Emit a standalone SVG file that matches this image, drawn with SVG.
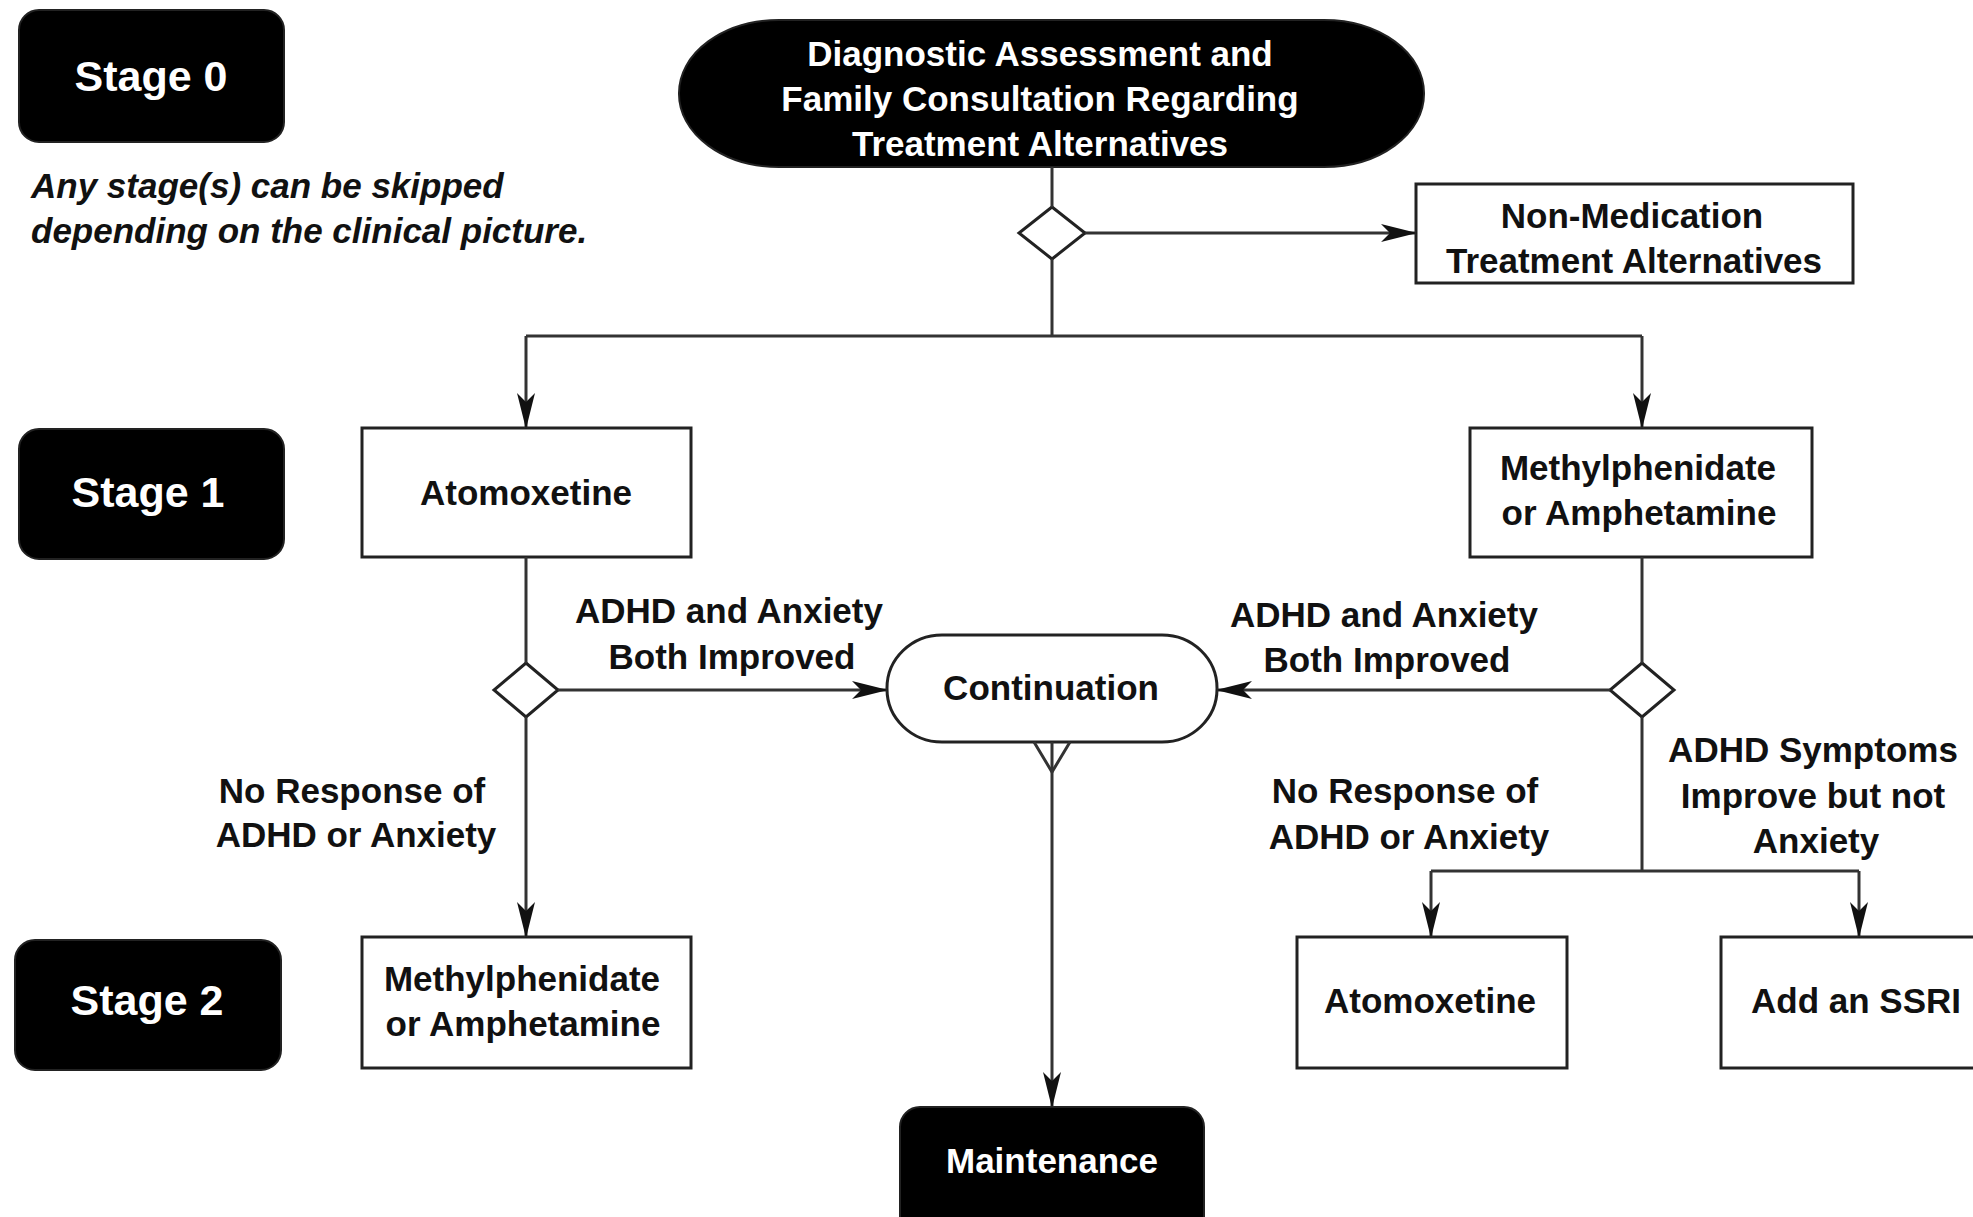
<svg xmlns="http://www.w3.org/2000/svg" width="1973" height="1217" viewBox="0 0 1973 1217">
<style>
.t{font-family:"Liberation Sans",Arial,sans-serif;font-weight:bold;font-size:35px;text-anchor:middle;fill:#111}
.w{fill:#fff}
.st{font-size:43px}
.it{font-style:italic;text-anchor:start}
.box{fill:#fff;stroke:#222;stroke-width:3}
.blk{fill:#000;stroke:#222;stroke-width:2}
.ln{fill:none;stroke:#333;stroke-width:3}
</style>
<defs>
<marker id="ar" viewBox="0 0 36 20" refX="35" refY="10" markerWidth="36" markerHeight="20" markerUnits="userSpaceOnUse" orient="auto">
<path d="M0,1 L36,10 L0,19 L9,10 z" fill="#111"/>
</marker>
</defs>
<rect width="1973" height="1217" fill="#fff"/>

<g id="stage0"><rect class="blk" x="19" y="10" width="265" height="132" rx="20"/><text class="t w st" x="151" y="91">Stage 0</text></g>
<g id="note"><text class="t it" x="31" y="198">Any stage(s) can be skipped</text><text class="t it" x="31" y="243">depending on the clinical picture.</text></g>
<g id="stage1"><rect class="blk" x="19" y="429" width="265" height="130" rx="20"/><text class="t w st" x="148" y="507">Stage 1</text></g>
<g id="stage2"><rect class="blk" x="15" y="940" width="266" height="130" rx="20"/><text class="t w st" x="147" y="1015">Stage 2</text></g>

<g id="diagnostic"><rect class="blk" x="679" y="20" width="745" height="147" rx="100" ry="73"/>
<text class="t w" x="1040" y="66">Diagnostic Assessment and</text>
<text class="t w" x="1040" y="111">Family Consultation Regarding</text>
<text class="t w" x="1040" y="156">Treatment Alternatives</text></g>

<g id="d1"><polygon class="box" points="1052,207 1085,233 1052,259 1019,233" stroke-width="2.5"/></g>
<g id="nonmed"><rect class="box" x="1416" y="184" width="437" height="99"/>
<text class="t" x="1632" y="228">Non-Medication</text><text class="t" x="1634" y="273">Treatment Alternatives</text></g>

<g id="atomox1"><rect class="box" x="362" y="428" width="329" height="129"/><text class="t" x="526" y="505">Atomoxetine</text></g>
<g id="methyl1"><rect class="box" x="1470" y="428" width="342" height="129"/>
<text class="t" x="1638" y="480">Methylphenidate</text><text class="t" x="1639" y="525">or Amphetamine</text></g>

<g id="d2"><polygon class="box" points="526,663 558,690 526,717 494,690" stroke-width="2.5"/></g>
<g id="d3"><polygon class="box" points="1642,663 1674,690 1642,717 1610,690" stroke-width="2.5"/></g>

<g id="continuation"><rect class="box" x="887" y="635" width="330" height="107" rx="55" ry="53"/><text class="t" x="1051" y="700">Continuation</text></g>

<g id="methyl2"><rect class="box" x="362" y="937" width="329" height="131"/>
<text class="t" x="522" y="991">Methylphenidate</text><text class="t" x="523" y="1036">or Amphetamine</text></g>
<g id="atomox2"><rect class="box" x="1297" y="937" width="270" height="131"/><text class="t" x="1430" y="1013">Atomoxetine</text></g>
<g id="ssri"><rect class="box" x="1721" y="937" width="270" height="131"/><text class="t" x="1856" y="1013">Add an SSRI</text></g>
<g id="maintenance"><rect class="blk" x="900" y="1107" width="304" height="130" rx="20"/><text class="t w" x="1052" y="1173">Maintenance</text></g>

<g id="labels">
<text class="t" x="729" y="623">ADHD and Anxiety</text><text class="t" x="732" y="669">Both Improved</text>
<text class="t" x="1384" y="627">ADHD and Anxiety</text><text class="t" x="1387" y="672">Both Improved</text>
<text class="t" x="352" y="803">No Response of</text><text class="t" x="356" y="847">ADHD or Anxiety</text>
<text class="t" x="1405" y="803">No Response of</text><text class="t" x="1409" y="849">ADHD or Anxiety</text>
<text class="t" x="1813" y="762">ADHD Symptoms</text><text class="t" x="1813" y="808">Improve but not</text><text class="t" x="1816" y="853">Anxiety</text>
</g>

<g id="connectors">
<path class="ln" d="M1052,167 V207"/>
<path class="ln" d="M1085,233 H1416" marker-end="url(#ar)"/>
<path class="ln" d="M1052,259 V336 M526,336 H1642"/>
<path class="ln" d="M526,336 V428" marker-end="url(#ar)"/>
<path class="ln" d="M1642,336 V428" marker-end="url(#ar)"/>
<path class="ln" d="M526,557 V663"/>
<path class="ln" d="M1642,557 V663"/>
<path class="ln" d="M558,690 H887" marker-end="url(#ar)"/>
<path class="ln" d="M1610,690 H1217" marker-end="url(#ar)"/>
<path class="ln" d="M526,717 V937" marker-end="url(#ar)"/>
<path class="ln" d="M1642,717 V871 M1431,871 H1859"/>
<path class="ln" d="M1431,871 V937" marker-end="url(#ar)"/>
<path class="ln" d="M1859,871 V937" marker-end="url(#ar)"/>
<path class="ln" d="M1034,742 L1052,772 L1070,742"/>
<path class="ln" d="M1052,742 V1107" marker-end="url(#ar)"/>
</g>
</svg>
